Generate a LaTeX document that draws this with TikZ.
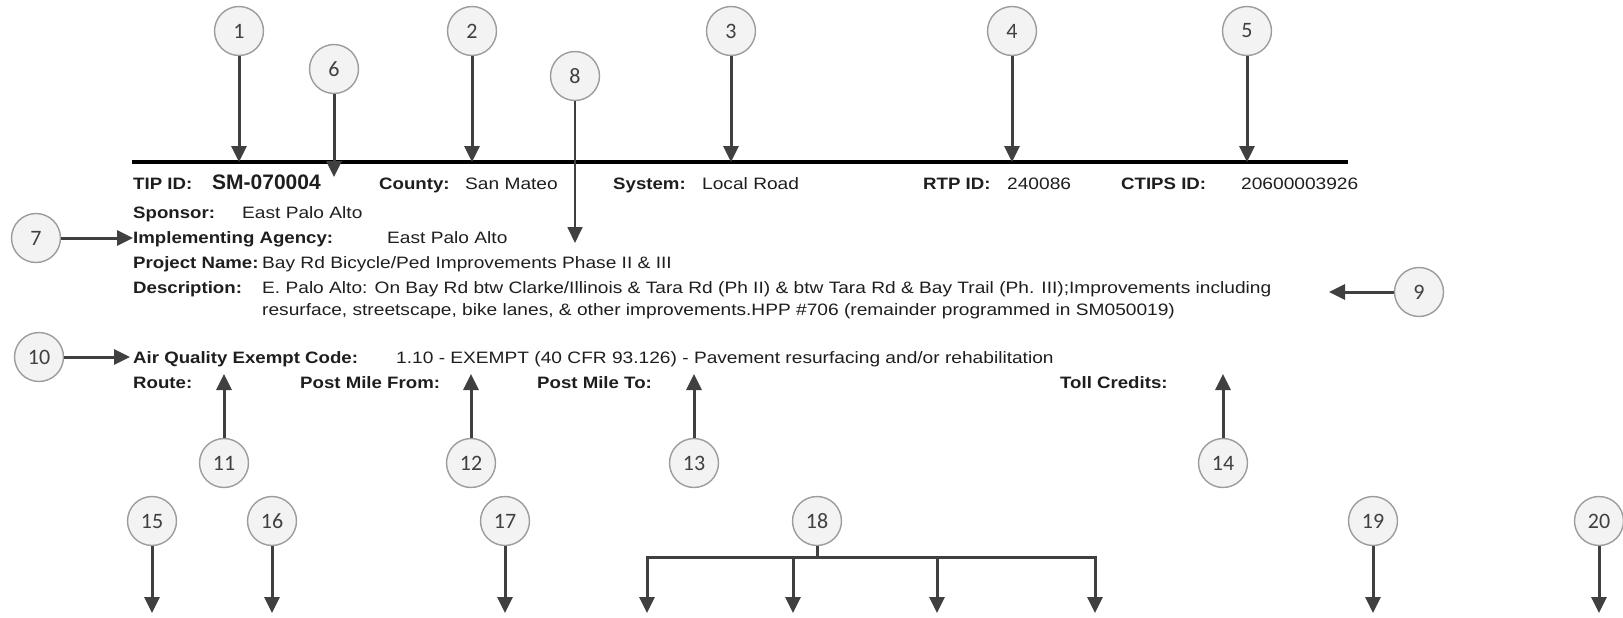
\documentclass[tikz,border=0pt]{standalone}
\usepackage{fontspec}
\setmainfont{Liberation Sans}[FakeStretch=1.16]
\newfontfamily\lblfont{Liberation Sans}[FakeStretch=1.13]
\newfontfamily\idfont{Liberation Sans}
\newfontfamily\numfont{Carlito}
\usepackage{xcolor}
\usepackage{tikz}
\usetikzlibrary{arrows.meta,positioning}
\definecolor{Ink}{HTML}{1E1E1E}
\definecolor{Shaft}{HTML}{404040}
\definecolor{Ring}{HTML}{9C9C9C}
\definecolor{Disc}{HTML}{F3F3F3}

\begin{document}
\begin{tikzpicture}[
  x=1pt,y=-1pt,
  num/.style={circle,draw=Ring,line width=1.4pt,fill=Disc,minimum size=49pt,inner sep=0pt,font=\numfont\fontsize{22}{24}\selectfont,text=Ink!85},
  lbl/.style={anchor=base west,inner sep=0pt,font=\lblfont\fontsize{16.5}{19}\selectfont\bfseries,text=Ink},
  val/.style={anchor=base west,inner sep=0pt,font=\fontsize{16.5}{19}\selectfont,text=Ink},
  idval/.style={anchor=base west,inner sep=0pt,font=\idfont\fontsize{21}{24}\selectfont\bfseries,text=Ink},
  arrow/.style={-{Triangle[length=16pt,width=15pt]},line width=3pt,draw=Shaft},
  thinarrow/.style={arrow,line width=1.8pt},
  shaft/.style={line width=3pt,draw=Shaft}
]
\useasboundingbox (0,0) rectangle (1623,618);

% header rule
\coordinate (ruleL) at (132,162);
\coordinate (ruleR) at (1348,162);
\draw[line width=4.5pt] (ruleL) -- (ruleR);

% record text
\node[lbl] (tiplbl) at (133,189) {TIP ID:};
\node[idval] (tipval) at (212,189) {SM-070004};
\node[lbl] (cntylbl) at (379,189) {County:};
\node[val] (cntyval) at (465,189) {San Mateo};
\node[lbl] (syslbl) at (613,189) {System:};
\node[val] (sysval) at (702,189) {Local Road};
\node[lbl] (rtplbl) at (923,189) {RTP ID:};
\node[val] (rtpval) at (1007,189) {240086};
\node[lbl] (ctipslbl) at (1121,189) {CTIPS ID:};
\node[val] (ctipsval) at (1241,189) {20600003926};
\node[lbl] (sponlbl) at (133,218) {Sponsor:};
\node[val] (sponval) at (242,218) {East Palo Alto};
\node[lbl] (agnlbl) at (133,243) {Implementing Agency:};
\node[val] (agnval) at (387,243) {East Palo Alto};
\node[lbl] (projlbl) at (133,268) {Project Name:};
\node[val] (projval) at (262,268) {Bay Rd Bicycle/Ped Improvements Phase II \& III};
\node[lbl] (desclbl) at (133,293) {Description:};
\node[val] (descval) at (262,293) {E. Palo Alto: On Bay Rd btw Clarke/Illinois \& Tara Rd (Ph II) \& btw Tara Rd \& Bay Trail (Ph. III);Improvements including};
\node[val] (descval2) at (262,315) {resurface, streetscape, bike lanes, \& other improvements.HPP \#706 (remainder programmed in SM050019)};
\node[lbl] (aqlbl) at (133,363) {Air Quality Exempt Code:};
\node[val] (aqval) at (396,363) {1.10 - EXEMPT (40 CFR 93.126) - Pavement resurfacing and/or rehabilitation};
\node[lbl] (routelbl) at (133,388) {Route:};
\node[lbl] (pmfromlbl) at (300,388) {Post Mile From:};
\node[lbl] (pmtolbl) at (537,388) {Post Mile To:};
\node[lbl] (tolllbl) at (1060,388) {Toll Credits:};

% callout circles
\node[num] (n1) at (239,31) {1};
\node[num] (n2) at (472,31) {2};
\node[num] (n3) at (731,31) {3};
\node[num] (n4) at (1012,31) {4};
\node[num] (n5) at (1247,31) {5};
\node[num] (n6) at (334,69) {6};
\node[num] (n7) at (36,238) {7};
\node[num] (n8) at (575,76) {8};
\node[num] (n9) at (1419,292) {9};
\node[num] (n10) at (39,357) {10};
\node[num] (n11) at (224,463) {11};
\node[num] (n12) at (471,463) {12};
\node[num] (n13) at (694,463) {13};
\node[num] (n14) at (1223,463) {14};
\node[num] (n15) at (152,521) {15};
\node[num] (n16) at (272,521) {16};
\node[num] (n17) at (505,521) {17};
\node[num] (n18) at (817,521) {18};
\node[num] (n19) at (1373,521) {19};
\node[num] (n20) at (1599,521) {20};

% free arrow ends
\coordinate (tip6) at (334,177);
\coordinate (tip8) at (575,243);
\coordinate (tip9) at (1329,292);
\coordinate (up) at (0,374);
\coordinate (floor) at (0,613);
\coordinate (brL) at (647,557);
\coordinate (brM1) at (793,557);
\coordinate (brM2) at (937,557);
\coordinate (brR) at (1095,557);

% arrows
\draw[arrow] (n1) -- (n1 |- ruleL);
\draw[arrow] (n2) -- (n2 |- ruleL);
\draw[arrow] (n3) -- (n3 |- ruleL);
\draw[arrow] (n4) -- (n4 |- ruleL);
\draw[arrow] (n5) -- (n5 |- ruleL);
\draw[arrow] (n6) -- (tip6);
\draw[thinarrow] (n8) -- (tip8);
\draw[arrow] (n7) -- (n7 -| agnlbl.west);
\draw[arrow,shorten >=3pt] (n10) -- (n10 -| aqlbl.west);
\draw[arrow] (n9) -- (tip9);
\draw[arrow] (n11) -- (n11 |- up);
\draw[arrow] (n12) -- (n12 |- up);
\draw[arrow] (n13) -- (n13 |- up);
\draw[arrow] (n14) -- (n14 |- up);
\draw[arrow] (n15) -- (n15 |- floor);
\draw[arrow] (n16) -- (n16 |- floor);
\draw[arrow] (n17) -- (n17 |- floor);
\draw[arrow] (n19) -- (n19 |- floor);
\draw[arrow] (n20) -- (n20 |- floor);
\draw[shaft] (n18) -- (n18 |- brL);
\draw[arrow] (brR) -- (brL) -- (brL |- floor);
\draw[arrow] (brL) -- (brR) -- (brR |- floor);
\draw[arrow] (brM1) -- (brM1 |- floor);
\draw[arrow] (brM2) -- (brM2 |- floor);
\end{tikzpicture}
\end{document}
